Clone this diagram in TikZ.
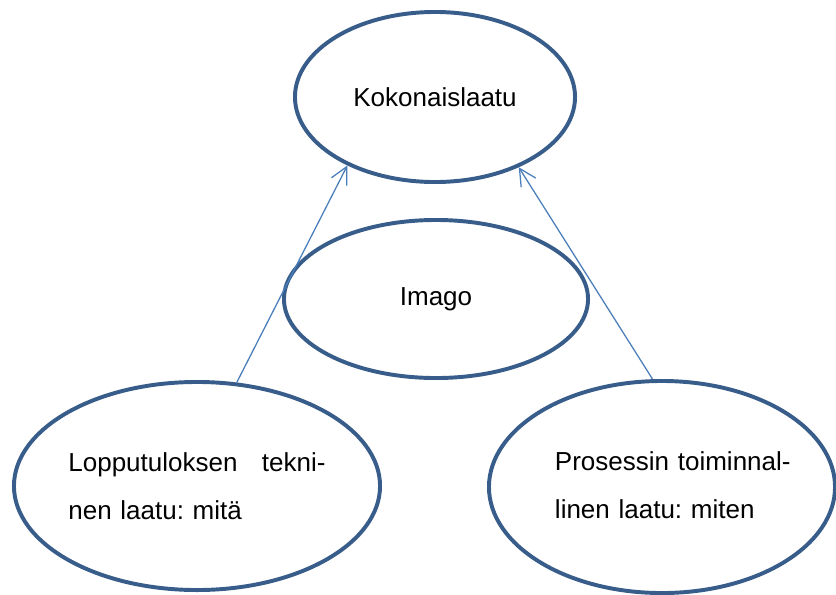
\documentclass[tikz,border=0pt]{standalone}
\usepackage{fontspec}
\setmainfont{Liberation Sans}
\usepackage{xcolor}
\usepackage{tikz}
\usetikzlibrary{arrows.meta,shapes.geometric}
\definecolor{ovalblue}{HTML}{385D8A}
\definecolor{lineblue}{HTML}{4A7EBB}
\tikzset{>={Straight Barb[length=4.2mm,width=4.3mm]}}
\frenchspacing

\begin{document}
\begin{tikzpicture}[x=0.025cm, y=-0.025cm, font=\fontsize{18.5}{34}\selectfont,
  oval/.style={draw=ovalblue, line width=2.8pt, ellipse, inner sep=0pt},
  link/.style={->, draw=lineblue, line width=0.9pt}]
  \useasboundingbox (0,0) rectangle (836,594);

  % Overall quality
  \node[oval,minimum width=7cm,minimum height=4.25cm] (koko) at (435,97) {Kokonaislaatu};

  % Image
  \node[oval,minimum width=7.6cm,minimum height=3.95cm] (imago) at (436,299) {Imago};

  % Technical quality
  \node[oval,minimum width=9.15cm,minimum height=5.2cm,text width=6.43cm,align=left] (tekn) at (197,486)
    {Lopputuloksen\hfill tekni-\\nen laatu: mitä};

  % Functional quality
  \node[oval,minimum width=8.65cm,minimum height=5.3cm] (toim) at (662,487) {};
  \node[text width=6cm,align=left,inner sep=0pt] (toimtext) at (675,485)
    {Prosessin toiminnal-\\linen laatu: miten};

  % Edges
  \draw[link] (tekn.69) -- (koko.218);
  \draw[link] (toim.95) -- (koko.320);
\end{tikzpicture}
\end{document}
